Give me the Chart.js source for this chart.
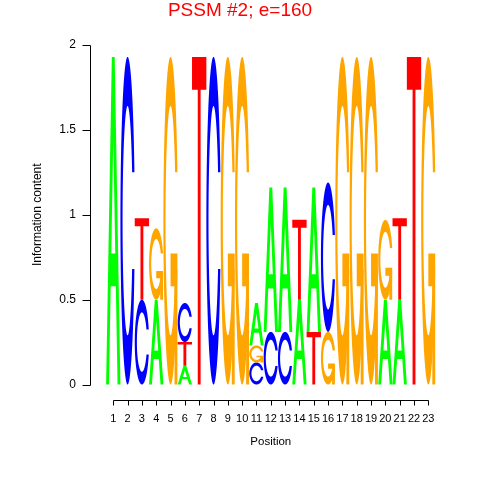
<!DOCTYPE html>
<html>
<head>
<meta charset="utf-8">
<script src="https://cdn.jsdelivr.net/npm/chart.js@4/dist/chart.umd.min.js"></script>
<style>
  body { margin: 0; background: #fff; }
  #wrap { width: 480px; height: 480px; }
</style>
</head>
<body>
<div id="wrap"><canvas id="logo" width="480" height="480"></canvas></div>
<script>
// 위치 라벨
const positions = ['1','2','3','4','5','6','7','8','9','10','11','12','13','14','15','16','17','18','19','20','21','22','23'];

// 각 위치의 글자 (아래 -> 위)
const stackLetters = ['A','C','CT','AG','G','ATC','T','C','G','G','CGA','CA','CA','AT','TA','GC','G','G','G','AG','AT','T','G'];

// 각 글자의 높이 (bits, 아래 -> 위)
const stackHeights = [
    [1.93], [1.93], [0.5, 0.48], [0.5, 0.42], [1.93],
    [0.11, 0.14, 0.23], [1.93], [1.93], [1.93], [1.93],
    [0.13, 0.1, 0.25], [0.31, 0.85], [0.31, 0.85], [0.5, 0.47], [0.31, 0.85],
    [0.31, 0.88], [1.93], [1.93], [1.93], [0.5, 0.47],
    [0.5, 0.48], [1.93], [1.93]
];

const yTicks = [0, 0.5, 1, 1.5, 2];

const letterColors = { A: '#00FF00', C: '#0000FF', G: '#FFA500', T: '#FF0000' };
const FONT = '"Liberation Sans", Arial, Helvetica, sans-serif';

// 층별 데이터셋 만들기
const layerCount = Math.max(...stackHeights.map(h => h.length));
const datasets = [];
for (let k = 0; k < layerCount; k++) {
    datasets.push({
        data: stackHeights.map(h => (k < h.length ? h[k] : null)),
        letters: stackLetters.map(s => s[k] || ''),
        backgroundColor: 'rgba(0,0,0,0)',
        borderWidth: 0,
        barPercentage: 1,
        categoryPercentage: 1
    });
}

// 글자 모양 (단위 사각형, y 위쪽) - seqLogo 스타일 다각형
function seq(a, b, n) {
    const r = [];
    for (let i = 0; i < n; i++) r.push(a + (b - a) * i / (n - 1));
    return r;
}
function rev(a) { return a.slice().reverse(); }

function ringShape() {
    const a1 = seq(0.3 + Math.PI / 2, Math.PI, 100);
    const a2 = seq(Math.PI, 1.5 * Math.PI, 100);
    const xl = a1.map(a => 0.5 + 0.5 * Math.sin(a)).concat(a2.map(a => 0.5 + 0.5 * Math.sin(a)));
    const yl1 = a1.map(a => 0.5 + 0.5 * Math.cos(a));
    const yl = yl1.concat(a2.map(a => 0.5 + 0.5 * Math.cos(a)));
    const h = Math.max(...yl1);
    let x = xl.concat(rev(xl));
    let y = yl.concat(rev(yl).map(v => 1 - v));
    let xi1 = [], yi1 = [];
    a1.forEach(a => {
        const yy = 0.5 + 0.35 * Math.cos(a);
        if (yy <= h) { xi1.push(0.5 + 0.35 * Math.sin(a)); yi1.push(yy); }
    });
    yi1[0] = h;
    const xi = xi1.concat(a2.map(a => 0.5 + 0.35 * Math.sin(a)));
    const yi = yi1.concat(a2.map(a => 0.5 + 0.35 * Math.cos(a)));
    const x1 = xi.concat(rev(xi));
    const y1 = yi.concat(rev(yi).map(v => 1 - v));
    x = x.concat(rev(x1));
    y = y.concat(rev(y1));
    return { x: x, y: y, r: Math.max(...a1.map(a => 0.5 + 0.5 * Math.sin(a))) };
}

const ring = ringShape();
const glyphs = {
    A: [
        { x: [0, 0.4, 0.6, 1, 0.8, 0.68, 0.32, 0.2, 0], y: [0, 1, 1, 0, 0, 0.3, 0.3, 0, 0] },
        { x: [0.36, 0.5, 0.64, 0.36], y: [0.4, 0.75, 0.4, 0.4], hole: true }
    ],
    C: [ { x: ring.x, y: ring.y } ],
    G: [
        { x: ring.x, y: ring.y },
        { x: [ring.r, 0.5, 0.5, ring.r - 0.2, ring.r - 0.2, ring.r, ring.r], y: [0.4, 0.4, 0.3, 0.3, 0, 0, 0.4] }
    ],
    T: [ { x: [0, 1, 1, 0.6, 0.6, 0.4, 0.4, 0], y: [1, 1, 0.9, 0.9, 0, 0, 0.9, 0.9] } ]
};

function drawLetter(ctx, ch, x, y, w, h) {
    if (h <= 0.5) return;
    glyphs[ch].forEach(p => {
        ctx.beginPath();
        p.x.forEach((u, j) => {
            const px = x + u * w;
            const py = y + (1 - p.y[j]) * h;
            if (j === 0) ctx.moveTo(px, py); else ctx.lineTo(px, py);
        });
        ctx.closePath();
        ctx.fillStyle = p.hole ? '#FFFFFF' : letterColors[ch];
        ctx.fill();
    });
}

const logoPlugin = {
    id: 'logoPlugin',
    afterDatasetsDraw(chart) {
        const ctx = chart.ctx;
        chart.data.datasets.forEach((ds, di) => {
            const meta = chart.getDatasetMeta(di);
            meta.data.forEach((bar, i) => {
                const ch = ds.letters[i];
                if (!ch || ds.data[i] == null) return;
                const top = Math.min(bar.y, bar.base);
                const hgt = Math.abs(bar.base - bar.y);
                drawLetter(ctx, ch, bar.x - bar.width / 2, top, bar.width, hgt);
            });
        });
    },
    afterDraw(chart) {
        const ctx = chart.ctx;
        const xs = chart.scales.x;
        const ys = chart.scales.y;
        const area = chart.chartArea;
        ctx.save();
        ctx.strokeStyle = '#000';
        ctx.lineWidth = 1;
        ctx.fillStyle = '#000';

        // y축
        const axX = 90.5;
        const y0 = Math.round(ys.getPixelForValue(yTicks[0])) + 0.5;
        const y1 = Math.round(ys.getPixelForValue(yTicks[yTicks.length - 1])) + 0.5;
        ctx.beginPath();
        ctx.moveTo(axX, y0);
        ctx.lineTo(axX, y1);
        yTicks.forEach(v => {
            const py = Math.round(ys.getPixelForValue(v)) + 0.5;
            ctx.moveTo(axX, py);
            ctx.lineTo(axX - 8, py);
        });
        ctx.stroke();
        ctx.font = '12px ' + FONT;
        ctx.textAlign = 'right';
        ctx.textBaseline = 'middle';
        yTicks.forEach(v => {
            ctx.fillText(String(v), 76, ys.getPixelForValue(v));
        });

        // x축
        const axY = 400.5;
        const xa = Math.round(xs.getPixelForValue(0)) + 0.5;
        const xb = Math.round(xs.getPixelForValue(positions.length - 1)) + 0.5;
        ctx.beginPath();
        ctx.moveTo(xa, axY);
        ctx.lineTo(xb, axY);
        positions.forEach((p, i) => {
            const px = Math.round(xs.getPixelForValue(i)) + 0.5;
            ctx.moveTo(px, axY);
            ctx.lineTo(px, axY + 5);
        });
        ctx.stroke();
        ctx.font = '11px ' + FONT;
        ctx.textAlign = 'center';
        ctx.textBaseline = 'middle';
        positions.forEach((p, i) => {
            ctx.fillText(p, xs.getPixelForValue(i), 419);
        });

        // 축 제목
        ctx.font = '11.5px ' + FONT;
        ctx.fillText('Position', (area.left + area.right) / 2, 442);
        ctx.save();
        ctx.translate(38, (area.top + area.bottom) / 2);
        ctx.rotate(-Math.PI / 2);
        ctx.font = '12px ' + FONT;
        ctx.fillText('Information content', 0, 0);
        ctx.restore();

        // 제목
        ctx.fillStyle = '#FF0000';
        ctx.font = '19px ' + FONT;
        ctx.fillText('PSSM #2; e=160', 240, 11);
        ctx.restore();
    }
};

const ctx = document.getElementById('logo').getContext('2d');
const chart = new Chart(ctx, {
    type: 'bar',
    data: { labels: positions, datasets: datasets },
    options: {
        responsive: false,
        animation: false,
        devicePixelRatio: 1,
        layout: { padding: { left: 106.1, right: 44.5, top: 45, bottom: 95.5 } },
        plugins: {
            legend: { display: false },
            tooltip: { enabled: false },
            title: { display: false }
        },
        scales: {
            x: { stacked: true, display: false },
            y: { stacked: true, display: false, min: 0, max: 2, ticks: { stepSize: 0.5 } }
        }
    },
    plugins: [logoPlugin]
});
</script>
</body>
</html>
